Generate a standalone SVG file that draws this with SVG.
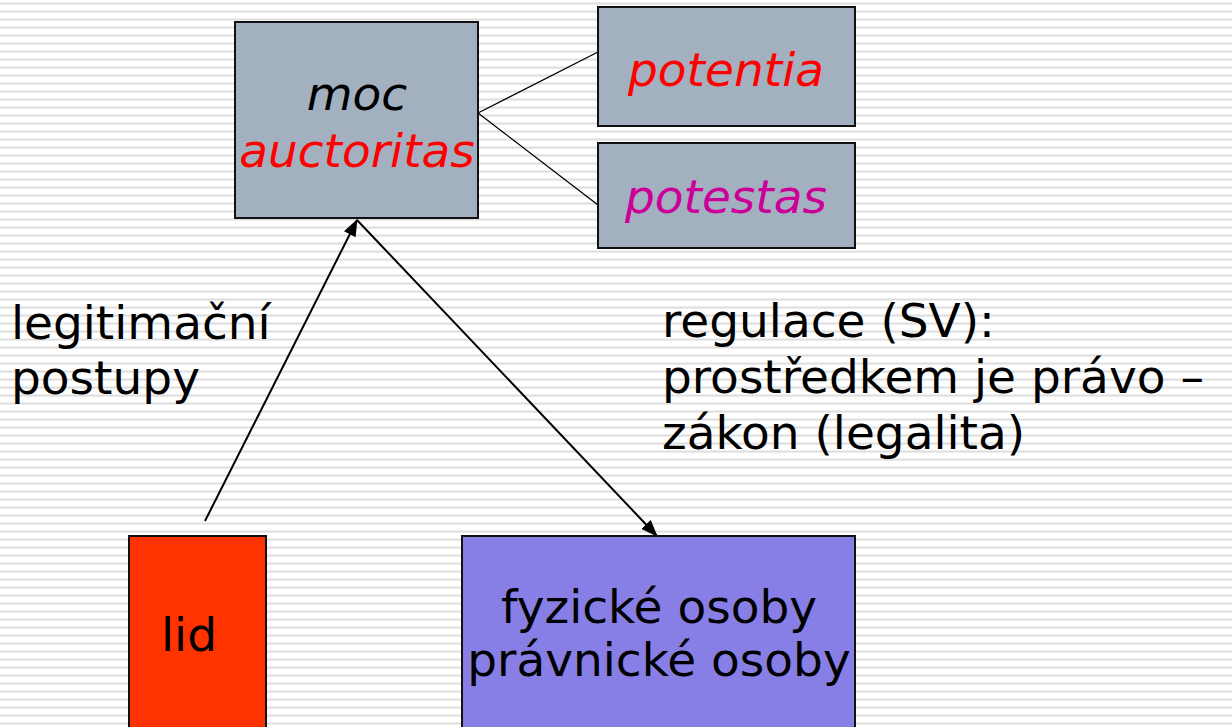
<svg xmlns="http://www.w3.org/2000/svg" width="1232" height="727" viewBox="0 0 1232 727">
<style>
.box{stroke:#111;stroke-width:2}
.grey{fill:#a2b0bf}
.t{font-family:"DejaVu Sans","Liberation Sans",sans-serif;font-size:47px;fill:#000}
.it{font-style:italic}
.c{text-anchor:middle}
.conn{stroke:#000;stroke-width:2;fill:none}
.thin{stroke:#000;stroke-width:1.3;fill:none}
</style>
<defs>
<pattern id="bg" x="0" y="0" width="8" height="8" patternUnits="userSpaceOnUse">
<rect width="8" height="8" fill="#ffffff"/>
<rect y="2" width="8" height="1" fill="#efefef"/>
<rect y="3" width="8" height="1" fill="#dedede"/>
<rect y="4" width="8" height="1" fill="#ebebeb"/>
</pattern>
<marker id="ah" markerWidth="17" markerHeight="13" refX="16" refY="6.5" orient="auto" markerUnits="userSpaceOnUse">
<path d="M0,0 L17,6.5 L0,13 z" fill="#000"/>
</marker>
</defs>
<rect width="1232" height="727" fill="url(#bg)"/>
<g id="connectors">
<line class="thin" x1="478" y1="113" x2="598" y2="52"/>
<line class="thin" x1="478" y1="113" x2="598" y2="205"/>
<line class="conn" x1="205" y1="521" x2="357" y2="220" marker-end="url(#ah)"/>
<line class="conn" x1="357" y1="220" x2="657" y2="536" marker-end="url(#ah)"/>
</g>
<g id="moc">
<rect class="box grey" x="235" y="22" width="243" height="196"/>
<text class="t it c" x="357" y="110">moc</text>
<text class="t it c" x="357" y="167" style="fill:#ff0000">auctoritas</text>
</g>
<g id="potentia">
<rect class="box grey" x="598" y="7" width="257" height="119"/>
<text class="t it c" x="726" y="86" style="fill:#ff0000">potentia</text>
</g>
<g id="potestas">
<rect class="box grey" x="598" y="143" width="257" height="105"/>
<text class="t it c" x="726" y="213" style="fill:#cc0099">potestas</text>
</g>
<g id="lid">
<rect class="box" x="129" y="536" width="137" height="200" fill="#ff3300"/>
<text class="t c" x="189" y="651">lid</text>
</g>
<g id="osoby">
<rect class="box" x="462" y="536" width="393" height="200" fill="#877fe6"/>
<text class="t c" x="659" y="623">fyzické osoby</text>
<text class="t c" x="659" y="676">právnické osoby</text>
</g>
<g id="label-legitimacni">
<text class="t" x="11" y="339">legitimační</text>
<text class="t" x="11" y="394">postupy</text>
</g>
<g id="label-regulace">
<text class="t" x="662" y="337">regulace (SV):</text>
<text class="t" x="662" y="393">prostředkem je právo –</text>
<text class="t" x="662" y="449">zákon (legalita)</text>
</g>
</svg>
